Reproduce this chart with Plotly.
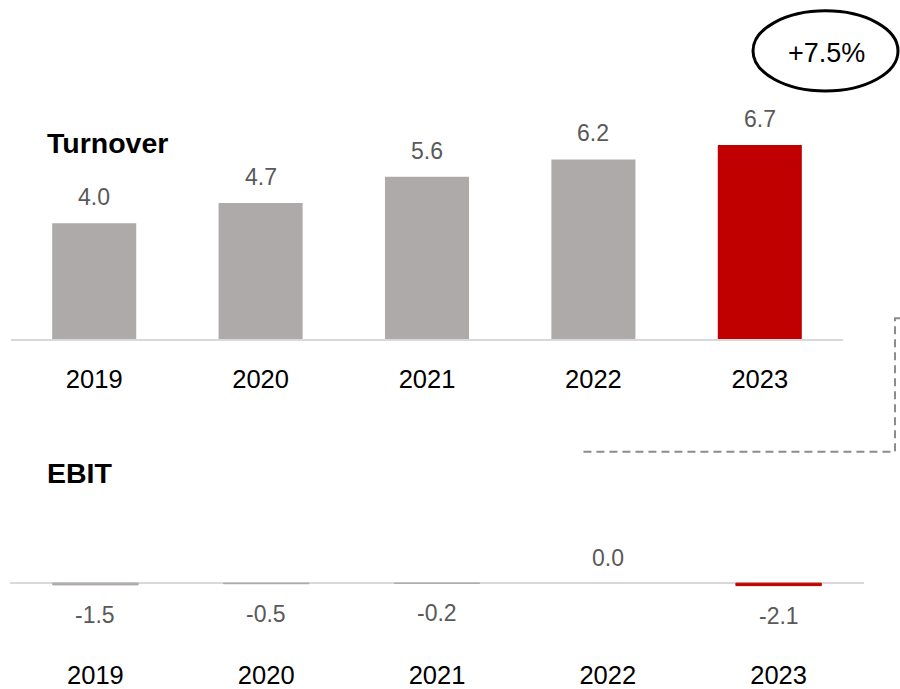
import plotly.graph_objects as go

# ---- data -------------------------------------------------------------
years = ["2019", "2020", "2021", "2022", "2023"]
turnover = [4.0, 4.7, 5.6, 6.2, 6.7]
ebit = [-1.5, -0.5, -0.2, 0.0, -2.1]
growth_label = "+7.5%"

GREY = "#AEAAAA"
RED = "#C00000"
AXIS = "#D9D9D9"
VALUE_TXT = "#595959"
FONT = "Liberation Sans, Arial, sans-serif"

W, H = 900, 689
bar_colors = [GREY] * (len(years) - 1) + [RED]
positions = list(range(len(years)))


def px_x(px):
    return px / W


def px_y(py):
    return 1 - py / H


fig = go.Figure()

# Turnover bars
fig.add_trace(go.Bar(
    x=positions, y=turnover, width=0.505,
    marker=dict(color=bar_colors, line=dict(width=0)),
    xaxis="x", yaxis="y", hoverinfo="skip", showlegend=False,
))

# EBIT bars (tiny on this scale); a thin outline keeps them visible,
# except where the value is exactly zero
ebit_outline = [0 if v == 0 else 1 for v in ebit]
fig.add_trace(go.Bar(
    x=positions, y=ebit, width=0.5,
    marker=dict(color=bar_colors, line=dict(width=ebit_outline, color=bar_colors)),
    xaxis="x2", yaxis="y2", hoverinfo="skip", showlegend=False,
))

annotations = []
for i, v in zip(positions, turnover):
    annotations.append(dict(
        x=i, y=v, xref="x", yref="y", text=f"{v:.1f}", showarrow=False,
        xanchor="center", yanchor="middle", yshift=26,
        font=dict(family=FONT, size=23, color=VALUE_TXT),
    ))
for i, v in zip(positions, ebit):
    annotations.append(dict(
        x=i, y=v, xref="x2", yref="y2", text=f"{v:.1f}", showarrow=False,
        xanchor="center", yanchor="middle",
        yshift=(25 if v >= 0 else -30),
        font=dict(family=FONT, size=23, color=VALUE_TXT),
    ))

# Section titles
annotations.append(dict(
    x=px_x(45), y=px_y(126), xref="paper", yref="paper", text="<b>Turnover</b>",
    showarrow=False, xanchor="left", yanchor="top", align="left",
    font=dict(family=FONT, size=28.5, color="black"),
))
annotations.append(dict(
    x=px_x(45), y=px_y(460), xref="paper", yref="paper", text="<b>EBIT</b>",
    showarrow=False, xanchor="left", yanchor="top", align="left",
    font=dict(family=FONT, size=28.5, color="black"),
))

# Growth callout text
annotations.append(dict(
    x=px_x(826), y=px_y(54), xref="paper", yref="paper", text=growth_label,
    showarrow=False, xanchor="center", yanchor="middle",
    font=dict(family=FONT, size=27, color="black"),
))

shapes = [
    # ellipse around growth figure
    dict(type="circle", xref="paper", yref="paper",
         x0=px_x(753), x1=px_x(898), y0=px_y(92), y1=px_y(11),
         line=dict(color="black", width=3), fillcolor="rgba(0,0,0,0)"),
    # dashed connector
    dict(type="path", xref="paper", yref="paper",
         path=(f"M {px_x(900)},{px_y(322)} L {px_x(895)},{px_y(322)} "
               f"L {px_x(895)},{px_y(457)} L {px_x(580)},{px_y(457)}"),
         line=dict(color="#8C8C8C", width=2, dash="8px,5px")),
]

top_ymax = (343 - 100) / 29.3
cat_range = [-0.5, len(years) - 0.5]

fig.update_layout(
    width=W, height=H,
    margin=dict(l=0, r=0, t=0, b=0),
    paper_bgcolor="white", plot_bgcolor="white",
    font=dict(family=FONT),
    xaxis=dict(
        domain=[px_x(11), px_x(843)], anchor="y", range=cat_range,
        tickmode="array", tickvals=positions, ticktext=years,
        showline=True, linecolor=AXIS, linewidth=1.5,
        ticks="", showgrid=False, zeroline=False, fixedrange=True,
        tickfont=dict(family=FONT, size=25.5, color="black"),
        ticklabelstandoff=17,
    ),
    yaxis=dict(
        domain=[px_y(343), px_y(100)], anchor="x",
        range=[0, top_ymax], visible=False, fixedrange=True,
    ),
    xaxis2=dict(
        domain=[px_x(10), px_x(864)], anchor="y2", range=cat_range,
        tickmode="array", tickvals=positions, ticktext=years,
        showline=False, ticks="", showgrid=False, zeroline=False,
        fixedrange=True,
        tickfont=dict(family=FONT, size=25.5, color="black"),
        ticklabelstandoff=15,
    ),
    yaxis2=dict(
        domain=[px_y(650), px_y(530)], anchor="x2",
        range=[-50, 50], showticklabels=False, showgrid=False,
        showline=False, ticks="", fixedrange=True,
        zeroline=True, zerolinecolor=AXIS, zerolinewidth=1.5,
    ),
    annotations=annotations,
    shapes=shapes,
)

fig.write_html("out.html")
